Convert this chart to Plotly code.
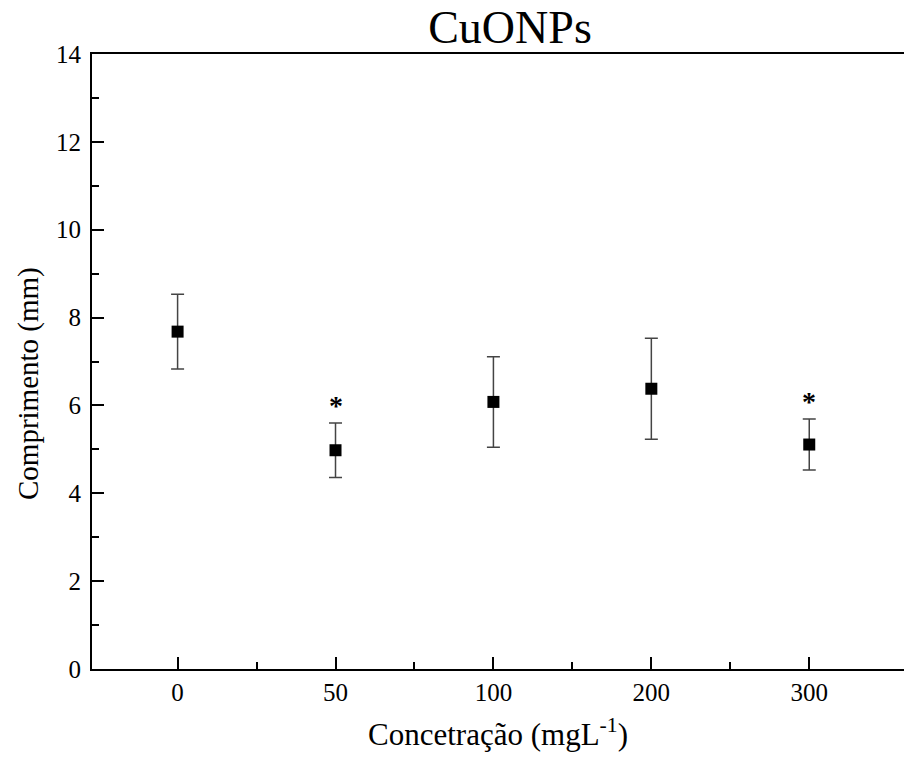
import plotly.graph_objects as go

categories = ["0", "50", "100", "200", "300"]
means = [7.68, 4.98, 6.08, 6.38, 5.11]
errors = [0.85, 0.62, 1.03, 1.15, 0.58]
significant = [False, True, False, False, True]
y_ticks = [0, 2, 4, 6, 8, 10, 12, 14]

idx = list(range(len(categories)))
FONT = "Liberation Serif, Times New Roman, serif"

fig = go.Figure()
fig.add_trace(go.Scatter(
    x=idx, y=means, mode="markers",
    marker=dict(symbol="square", size=12, color="black"),
    error_y=dict(type="data", array=errors, visible=True,
                 color="#444444", thickness=1.5, width=6.5),
    showlegend=False,
))

for i, m, e, s in zip(idx, means, errors, significant):
    if s:
        fig.add_annotation(x=i, y=m + e + 0.40, text="*", showarrow=False,
                           yanchor="middle", xanchor="center",
                           font=dict(family=FONT, size=28, color="black", weight="bold"))

fig.add_annotation(xref="paper", yref="paper", x=-64/812, y=(669 - 384) / 615,
                   text="Comprimento (mm)", textangle=-90, showarrow=False,
                   xanchor="center", yanchor="middle",
                   font=dict(family=FONT, size=29, color="black"))

fig.update_layout(
    width=904, height=760,
    margin=dict(l=92, r=0, t=54, b=91),
    paper_bgcolor="white", plot_bgcolor="white",
    title=dict(text="CuONPs", x=510/904, xanchor="center", y=1 - 27/760, yanchor="middle",
               font=dict(family=FONT, size=46, color="black")),
    font=dict(family=FONT, color="black"),
)

fig.update_xaxes(
    range=[-0.542, 4.60],
    tickmode="array", tickvals=idx, ticktext=categories,
    ticks="inside", ticklen=12, tickwidth=2, tickcolor="black",
    minor=dict(tickvals=[0.5, 1.5, 2.5, 3.5], ticks="inside", ticklen=7, tickwidth=2, tickcolor="black"),
    showline=True, linewidth=2, linecolor="black", mirror=True,
    showgrid=False, zeroline=False,
    tickfont=dict(family=FONT, size=25, color="black"),
    title=dict(text="Concetração (mgL<sup>-1</sup>)", font=dict(family=FONT, size=31, color="black"), standoff=18),
)

fig.update_yaxes(
    range=[0, 14],
    tickmode="array", tickvals=y_ticks,
    ticks="inside", ticklen=12, tickwidth=2, tickcolor="black",
    minor=dict(tickvals=[1, 3, 5, 7, 9, 11, 13], ticks="inside", ticklen=7, tickwidth=2, tickcolor="black"),
    showline=True, linewidth=2, linecolor="black",
    showgrid=False, zeroline=False,
    ticklabelstandoff=4,
    tickfont=dict(family=FONT, size=25, color="black"),
)

fig.write_html("out.html")
